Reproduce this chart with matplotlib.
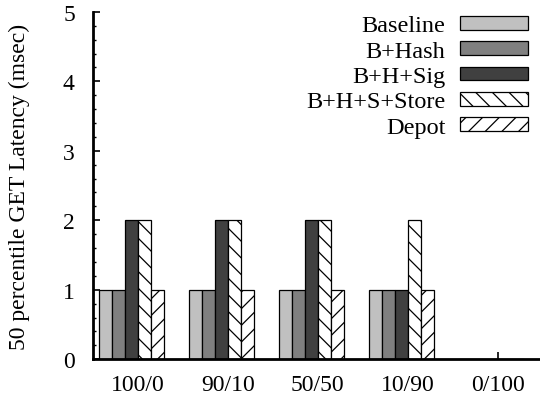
import numpy as np
import matplotlib
matplotlib.use("Agg")
from matplotlib import pyplot as plt
from matplotlib.ticker import MultipleLocator

# Data
mixes = ["100/0", "90/10", "50/50", "10/90", "0/100"]
series = ["Baseline", "B+Hash", "B+H+Sig", "B+H+S+Store", "Depot"]
baseline = [1, 1, 1, 1, 0]
b_hash = [1, 1, 1, 1, 0]
b_h_sig = [2, 2, 2, 1, 0]
b_h_s_store = [2, 2, 2, 2, 0]
depot = [1, 1, 1, 1, 0]

plt.rcParams['font.family'] = ['Liberation Serif', 'DejaVu Serif']
plt.rcParams['hatch.linewidth'] = 0.9

fig = plt.figure(figsize=(5.4, 4.02), dpi=100)
ax = fig.add_axes([0.172, 0.104, 0.828, 0.864])

values = [baseline, b_hash, b_h_sig, b_h_s_store, depot]
colors = ['#c0c0c0', '#808080', '#404040', 'white', 'white']
hatches = [None, None, None, '\\\\', '//']
x = np.arange(len(mixes))
w = 0.145
for k, (name, vals) in enumerate(zip(series, values)):
    ax.bar(x + (k - 2.5) * w, vals, w, color=colors[k], edgecolor='black',
           linewidth=0.9, hatch=hatches[k], label=name, zorder=2)

# axes
ax.set_xlim(-0.5, 4.47)
ax.set_ylim(0, 5)
ax.set_xticks(x)
ax.set_xticklabels(mixes, fontsize=17)
ax.yaxis.set_major_locator(MultipleLocator(1))
ax.yaxis.set_minor_locator(MultipleLocator(0.2))
ax.tick_params(direction='in', length=5, width=1.2)
ax.tick_params(axis='y', labelsize=17, pad=13)
ax.tick_params(axis='x', pad=11)
ax.tick_params(which='minor', direction='in', length=2.5, width=1)
ax.set_ylabel("50 percentile GET Latency (msec)", fontsize=17, labelpad=24)
for s in ['top', 'right']:
    ax.spines[s].set_visible(False)
for s in ['left', 'bottom']:
    ax.spines[s].set_linewidth(2)

# legend: text on the left, swatch on the right
ax.legend(loc='upper right', frameon=False, markerfirst=False, fontsize=17.5,
          handlelength=2.8, handleheight=0.5, handletextpad=0.6,
          labelspacing=0.18, borderpad=0.0, borderaxespad=0.0,
          bbox_to_anchor=(0.973, 0.99))

fig.savefig("out.png", dpi=100)
